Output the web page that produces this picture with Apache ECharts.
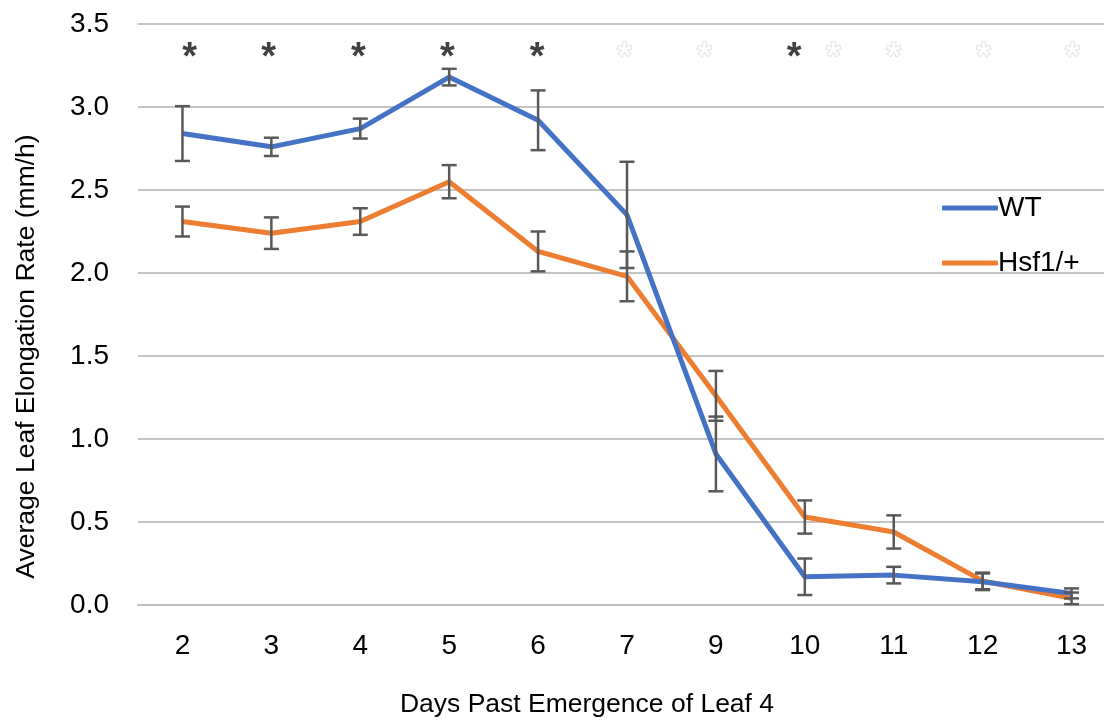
<!DOCTYPE html>
<html>
<head>
<meta charset="utf-8">
<script src="https://cdn.jsdelivr.net/npm/echarts@6/dist/echarts.min.js"></script>
<style>
  html, body { margin: 0; padding: 0; background: #fff; overflow: hidden; }
  #chart { width: 1120px; height: 723px; }
</style>
</head>
<body>
<div id="chart"></div>
<script>
// Days past emergence of leaf 4
const days = ['2', '3', '4', '5', '6', '7', '9', '10', '11', '12', '13'];

// Mean elongation rate (mm/h) and error (±)
const wtMean = [2.84, 2.76, 2.87, 3.18, 2.92, 2.35, 0.91, 0.17, 0.18, 0.14, 0.07];
const wtErr  = [0.165, 0.055, 0.06, 0.05, 0.18, 0.32, 0.225, 0.11, 0.05, 0.05, 0.03];
const hsfMean = [2.31, 2.24, 2.31, 2.55, 2.13, 1.98, 1.26, 0.53, 0.44, 0.145, 0.04];
const hsfErr  = [0.09, 0.095, 0.08, 0.10, 0.12, 0.15, 0.15, 0.10, 0.10, 0.05, 0.035];

// Significance markers: position (in category units) and whether filled
const starPos    = [0.08, 0.97, 1.98, 2.98, 3.99, 4.97, 5.87, 6.88, 7.32, 8.0, 9.01, 10.01];
const starFilled = [true, true, true, true, true, false, false, true, false, false, false, false];
const starLevel = 3.34;

const FONT = 'Liberation Sans, Arial, sans-serif';

function errData(mean, err) {
  return mean.map((m, i) => [i, m - err[i], m + err[i]]);
}

function renderErr(params, api) {
  const x = api.value(0);
  const lo = api.coord([x, api.value(1)]);
  const hi = api.coord([x, api.value(2)]);
  const cap = 7.5;
  const style = { stroke: '#595959', lineWidth: 2.5 };
  return {
    type: 'group',
    children: [
      { type: 'line', shape: { x1: lo[0], y1: lo[1], x2: hi[0], y2: hi[1] }, style },
      { type: 'line', shape: { x1: lo[0] - cap, y1: lo[1], x2: lo[0] + cap, y2: lo[1] }, style },
      { type: 'line', shape: { x1: hi[0] - cap, y1: hi[1], x2: hi[0] + cap, y2: hi[1] }, style }
    ]
  };
}

const chart = echarts.init(document.getElementById('chart'));
chart.setOption({
  animation: false,
  backgroundColor: '#fff',
  grid: { left: 138, top: 24, width: 978, height: 588, containLabel: false },
  legend: {
    orient: 'vertical',
    left: 937,
    top: 189,
    icon: 'roundRect',
    itemWidth: 56,
    itemHeight: 5,
    itemGap: 27,
    data: ['WT', 'Hsf1/+'],
    textStyle: { fontFamily: FONT, fontSize: 28, lineHeight: 28, color: '#000', padding: [0, 0, 0, -5] }
  },
  xAxis: [
    {
      type: 'category',
      data: days,
      boundaryGap: true,
      axisLine: { lineStyle: { color: '#bfbfbf', width: 2 } },
      axisTick: { show: false },
      axisLabel: { fontFamily: FONT, fontSize: 28, color: '#000', margin: 27 },
      name: 'Days Past Emergence of Leaf 4',
      nameLocation: 'middle',
      nameGap: 86,
      nameTextStyle: { fontFamily: FONT, fontSize: 26.5, color: '#000', padding: [0, 80, 0, 0] }
    },
    {
      type: 'value',
      min: -0.5,
      max: 10.5,
      show: false
    }
  ],
  yAxis: {
    type: 'value',
    min: 0,
    max: 3.5,
    interval: 0.5,
    axisLine: { show: false },
    axisTick: { show: false },
    splitLine: { lineStyle: { color: '#c4c4c4', width: 2 } },
    axisLabel: {
      fontFamily: FONT, fontSize: 28, color: '#000', margin: 29,
      formatter: v => v.toFixed(1)
    },
    name: 'Average Leaf Elongation Rate (mm/h)',
    nameLocation: 'middle',
    nameGap: 98,
    nameTextStyle: { fontFamily: FONT, fontSize: 26.5, color: '#000', padding: [0, 84, 0, 0] }
  },
  series: [
    {
      name: 'WT',
      type: 'line',
      data: wtMean,
      symbol: 'none',
      lineStyle: { color: '#4472C4', width: 5 },
      itemStyle: { color: '#4472C4' },
      z: 3
    },
    {
      name: 'Hsf1/+',
      type: 'line',
      data: hsfMean,
      symbol: 'none',
      lineStyle: { color: '#ED7D31', width: 5 },
      itemStyle: { color: '#ED7D31' },
      z: 2
    },
    {
      type: 'custom',
      renderItem: renderErr,
      data: errData(wtMean, wtErr),
      z: 4
    },
    {
      type: 'custom',
      renderItem: renderErr,
      data: errData(hsfMean, hsfErr),
      z: 4
    },
    {
      type: 'scatter',
      xAxisIndex: 1,
      symbolSize: 1,
      itemStyle: { color: 'rgba(0,0,0,0)' },
      data: starPos.map((p, i) => ({
        value: [p, starLevel],
        label: starFilled[i]
          ? { color: '#111' }
          : { color: '#fff', textBorderColor: '#d0d0d0', textBorderWidth: 1.2 }
      })),
      label: {
        show: true,
        position: 'inside',
        formatter: '*',
        fontFamily: FONT,
        fontSize: 38,
        fontWeight: 'bold',
        offset: [0, 8]
      },
      silent: true,
      z: 5
    }
  ]
});
</script>
</body>
</html>
